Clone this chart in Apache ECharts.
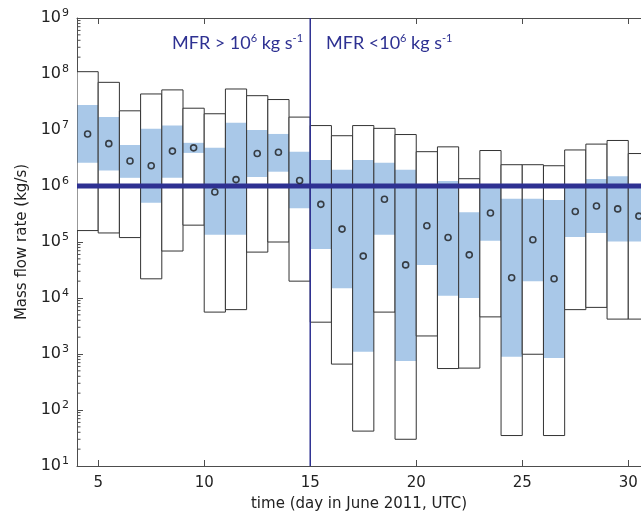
<!DOCTYPE html>
<html>
<head>
<meta charset="utf-8">
<script src="https://cdn.jsdelivr.net/npm/echarts@6/dist/echarts.min.js"></script>
<style>html,body{margin:0;padding:0;background:#fff}#c{width:641px;height:518px}</style>
</head>
<body>
<div id="c"></div>
<script>
// Days (box spans [day, day+1], median marker at day+0.5)
const days = [4,5,6,7,8,9,10,11,12,13,14,15,16,17,18,19,20,21,22,23,24,25,26,27,28,29,30];
// Outer range (white boxes), kg/s
const outerHigh = [1.1e8,7.1e7,2.2e7,4.4e7,5.2e7,2.45e7,1.95e7,5.4e7,4.1e7,3.5e7,1.7e7,1.2e7,7.9e6,1.2e7,1.07e7,8.3e6,4.1e6,5.0e6,1.35e6,4.3e6,2.4e6,2.4e6,2.3e6,4.4e6,5.6e6,6.5e6,3.8e6];
const outerLow  = [1.6e5,1.45e5,1.2e5,2.2e4,6.9e4,2.0e5,5.6e3,6.2e3,6.6e4,1.0e5,2.0e4,3.7e3,660,42,5.6e3,30,2.1e3,550,560,4.6e3,35,990,35,6.2e3,6.8e3,4.2e3,4.2e3];
// Inner range (blue boxes), kg/s
const innerHigh = [2.8e7,1.7e7,5.4e6,1.05e7,1.2e7,5.9e6,4.8e6,1.35e7,1.0e7,8.5e6,4.1e6,2.9e6,1.95e6,2.9e6,2.6e6,1.95e6,1.0e6,1.23e6,3.4e5,1.0e6,5.9e5,5.9e5,5.6e5,1.0e6,1.33e6,1.5e6,1.0e6];
const innerLow  = [2.6e6,1.9e6,1.4e6,5.0e5,1.4e6,3.9e6,1.35e5,1.35e5,1.45e6,1.8e6,4.0e5,7.5e4,1.5e4,1.1e3,1.35e5,750,3.9e4,1.1e4,1.0e4,1.05e5,890,2.0e4,850,1.23e5,1.45e5,1.02e5,1.02e5];
// Median (circles), kg/s
const median    = [8.5e6,5.7e6,2.8e6,2.3e6,4.2e6,4.8e6,7.8e5,1.3e6,3.8e6,4.0e6,1.25e6,4.7e5,1.7e5,5.6e4,5.8e5,3.9e4,1.95e5,1.2e5,5.9e4,3.3e5,2.3e4,1.1e5,2.2e4,3.5e5,4.4e5,3.9e5,2.9e5];
// Threshold and split day
const thresholdMFR = 1e6;
const splitDay = 15;
const xTicks = [5,10,15,20,25,30];

const BLUE = '#2e3192';
const FILL = '#a9c8e8';
const AX = '#4d4d4d';

const boxData = days.map((d,i)=>[d, outerHigh[i], innerHigh[i], innerLow[i], outerLow[i]]);
const medData = days.map((d,i)=>[d+0.5, median[i]]);

// minor ticks of log axis
const minorVals = [];
for (let e=1;e<9;e++){ for(let m=2;m<=9;m++){ minorVals.push([4, m*Math.pow(10,e)]); } }

const chart = echarts.init(document.getElementById('c'), null, {renderer:'canvas'});
const FONT = 'DejaVu Sans';
chart.setOption({
  animation:false,
  backgroundColor:'#fff',
  grid:{left:77, right:0, top:18, bottom:52, containLabel:false},
  title:[
    {left:172, top:33, padding:0, text:'MFR > 10{s|6} kg s{s|-1}', textStyle:{fontFamily:'Lato', fontSize:18, color:BLUE, fontWeight:'normal',
      rich:{s:{fontFamily:'Lato', fontSize:11, color:BLUE, padding:[0,0,9,0]}}}},
    {left:326, top:33, padding:0, text:'MFR <10{s|6} kg s{s|-1}', textStyle:{fontFamily:'Lato', fontSize:18, color:BLUE, fontWeight:'normal',
      rich:{s:{fontFamily:'Lato', fontSize:11, color:BLUE, padding:[0,0,9,0]}}}}
  ],
  xAxis:[{
    type:'value', min:4, max:30.6, position:'bottom',
    name:'time (day in June 2011, UTC)', nameLocation:'middle', nameGap:31,
    nameTextStyle:{fontFamily:FONT, fontSize:15, color:'#222'},
    axisLine:{show:true, onZero:false, lineStyle:{color:AX, width:1}},
    axisTick:{show:true, inside:true, length:6, customValues:xTicks, lineStyle:{color:AX}},
    axisLabel:{show:true, customValues:xTicks, fontFamily:FONT, fontSize:15, color:'#222', margin:10},
    splitLine:{show:false}
  },{
    type:'value', min:4, max:30.6, position:'top',
    axisLine:{show:true, onZero:false, lineStyle:{color:AX, width:1}},
    axisTick:{show:true, inside:true, length:6, customValues:xTicks, lineStyle:{color:AX}},
    axisLabel:{show:false},
    splitLine:{show:false}
  }],
  yAxis:[{
    type:'log', logBase:10, min:10, max:1e9, interval:1,
    name:'Mass flow rate (kg/s)', nameLocation:'middle', nameGap:47,
    nameTextStyle:{fontFamily:FONT, fontSize:15, color:'#222'},
    axisLine:{show:true, onZero:false, lineStyle:{color:AX, width:1}},
    axisTick:{show:true, inside:true, length:6, lineStyle:{color:AX}},
    axisLabel:{
      fontFamily:FONT, color:'#222', margin:8,
      formatter:function(v){ const e=Math.round(Math.log10(v)); return '{b|10}{s|'+e+'}'; },
      rich:{b:{fontFamily:FONT, fontSize:16, color:'#222'}, s:{fontFamily:FONT, fontSize:11, color:'#222', padding:[0,0,10,1]}}
    },
    splitLine:{show:false}
  }],
  series:[
    {
      type:'custom', name:'boxes', clip:true, z:2,
      data:boxData,
      renderItem:function(params, api){
        const d=api.value(0);
        const pOH=api.coord([d, api.value(1)]);
        const pIH=api.coord([d, api.value(2)]);
        const pIL=api.coord([d+1, api.value(3)]);
        const pOL=api.coord([d+1, api.value(4)]);
        const x=pOH[0], w=pOL[0]-pOH[0];
        return {type:'group', children:[
          {type:'rect', shape:{x:x, y:pOH[1], width:w, height:pOL[1]-pOH[1]}, style:{fill:'#fff', stroke:null}},
          {type:'rect', shape:{x:x, y:pIH[1], width:w, height:pIL[1]-pIH[1]}, style:{fill:FILL, stroke:null}},
          {type:'rect', shape:{x:x, y:pOH[1], width:w, height:pOL[1]-pOH[1]}, style:{fill:null, stroke:'#333', lineWidth:1}}
        ]};
      }
    },
    {
      type:'custom', name:'minorTicks', clip:false, z:1, silent:true,
      data:minorVals,
      renderItem:function(params, api){
        const p=api.coord([api.value(0), api.value(1)]);
        return {type:'line', shape:{x1:p[0], y1:p[1], x2:p[0]+3.5, y2:p[1]}, style:{stroke:AX, lineWidth:1}};
      }
    },
    {
      type:'line', name:'threshold', z:5, symbol:'none', silent:true,
      data:[[4, thresholdMFR],[31, thresholdMFR]],
      lineStyle:{color:BLUE, width:5}
    },
    {
      type:'line', name:'split', z:5, symbol:'none', silent:true,
      data:[[splitDay, 10],[splitDay, 1e9]],
      lineStyle:{color:BLUE, width:1.5}
    },
    {
      type:'scatter', name:'median', z:6, symbol:'circle', symbolSize:6,
      data:medData,
      itemStyle:{color:'rgba(0,0,0,0)', borderColor:'#1a1a1a', borderWidth:1.6}
    }
  ]
});
</script>
</body>
</html>
